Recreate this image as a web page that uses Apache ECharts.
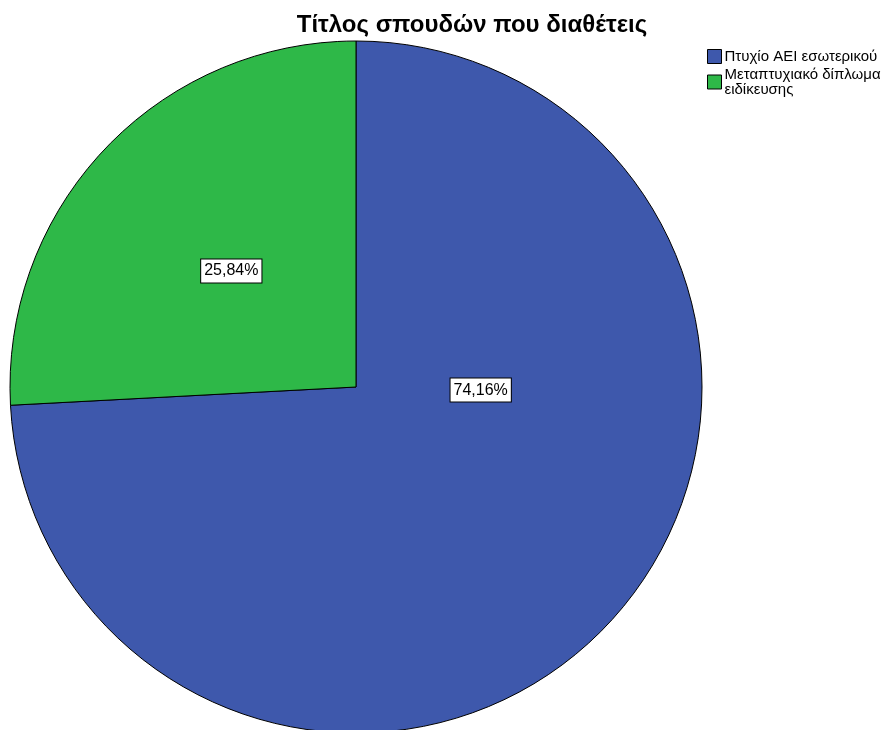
<!DOCTYPE html>
<html><head><meta charset="utf-8">
<script src="https://cdn.jsdelivr.net/npm/echarts@6/dist/echarts.min.js"></script>
<style>html,body{margin:0;padding:0;background:#fff}#c{width:895px;height:730px}</style>
</head><body><div id="c"></div>
<script>
const titleText = 'Τίτλος σπουδών που διαθέτεις';
const categories = ['Πτυχίο ΑΕΙ εσωτερικού', 'Μεταπτυχιακό δίπλωμα\nειδίκευσης'];
const values = [74.16, 25.84];
const colors = ['#3E58AC', '#2EB848'];
const labelOffsets = [[-3, -118], [3, 5]];

const chart = echarts.init(document.getElementById('c'));
chart.setOption({
  animation: false,
  title: { text: titleText, left: 467, top: 8, textAlign: 'center',
    textStyle: { fontFamily: 'Liberation Sans, Arial', fontSize: 24, fontWeight: 'bold', color: '#000' } },
  legend: { orient: 'vertical', left: 702, top: 44, itemWidth: 14, itemHeight: 14, itemGap: 3,
    icon: 'rect',
    itemStyle: { borderColor: '#000', borderWidth: 1 },
    textStyle: { fontFamily: 'Liberation Sans, Arial', fontSize: 15, color: '#000', lineHeight: 15, padding: [0,0,0,-2] },
    data: categories },
  series: [{
    type: 'pie', center: [356, 387], radius: 346, startAngle: 90, clockwise: true,
    avoidLabelOverlap: false,
    itemStyle: { borderColor: '#000', borderWidth: 1 },
    label: { position: 'inside', color: '#000', fontFamily: 'Liberation Sans, Arial', fontSize: 16,
      backgroundColor: '#fff', borderColor: '#000', borderWidth: 1, padding: [4, 3, 3, 3],
      formatter: p => p.value.toFixed(2).replace('.', ',') + '%' },
    emphasis: { disabled: true },
    data: categories.map((c, i) => ({ name: c, value: values[i], itemStyle: { color: colors[i] },
      label: { offset: labelOffsets[i] } }))
  }]
});
</script></body></html>
